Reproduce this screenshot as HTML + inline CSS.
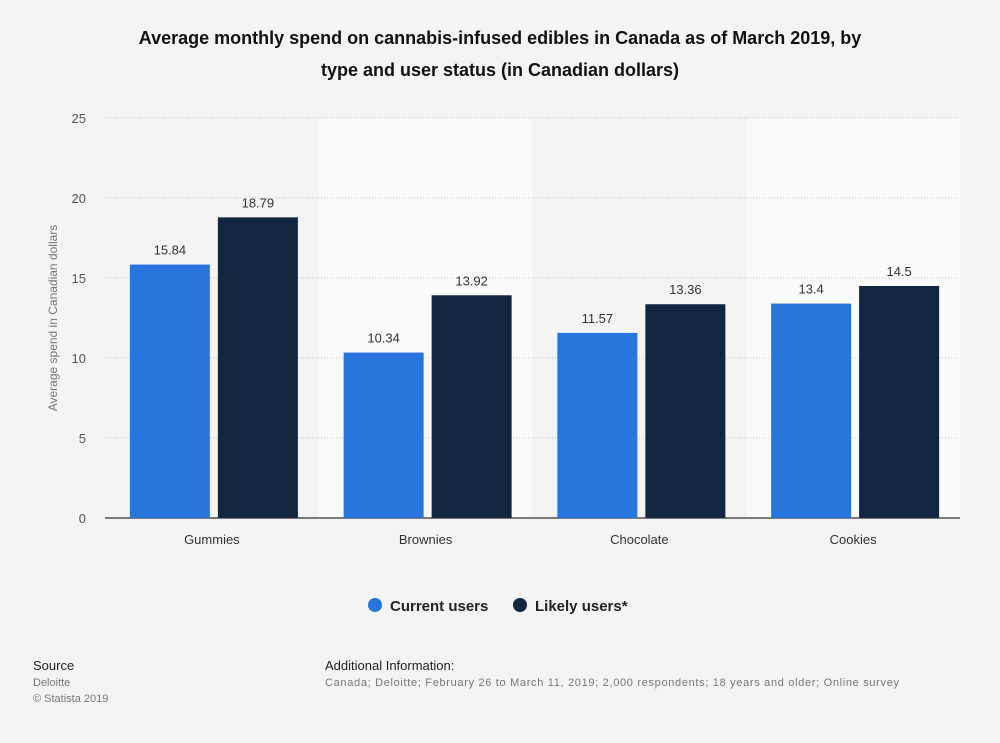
<!DOCTYPE html>
<html><head><meta charset="utf-8"><style>
body{margin:0;width:1000px;height:743px;background:#f4f4f4;font-family:"Liberation Sans",sans-serif;overflow:hidden}
</style></head><body>
<svg width="1000" height="743" style="position:absolute;left:0;top:0">
<text x="500" y="44" text-anchor="middle" font-size="18" font-weight="bold" fill="#111">Average monthly spend on cannabis-infused edibles in Canada as of March 2019, by</text>
<text x="500" y="76" text-anchor="middle" font-size="18" font-weight="bold" fill="#111">type and user status (in Canadian dollars)</text>
<g id="bands"></g><g id="grid"></g><g id="bars"></g>
<text transform="translate(57,318) rotate(-90)" text-anchor="middle" font-size="12" fill="#777">Average spend in Canadian dollars</text>
<g>
<circle cx="375" cy="605" r="7" fill="#2876dd"/>
<text x="390" y="611" font-size="15" font-weight="bold" fill="#222">Current users</text>
<circle cx="520" cy="605" r="7" fill="#12263f"/>
<text x="535" y="611" font-size="15" font-weight="bold" fill="#222">Likely users*</text>
</g>
<text x="33" y="670" font-size="13" fill="#222">Source</text>
<text x="33" y="686" font-size="11" fill="#777">Deloitte</text>
<text x="33" y="702" font-size="11" fill="#777">© Statista 2019</text>
<text x="325" y="670" font-size="13" fill="#222">Additional Information:</text>
<text x="325" y="686" font-size="11" fill="#777" textLength="574" lengthAdjust="spacing">Canada; Deloitte; February 26 to March 11, 2019; 2,000 respondents; 18 years and older; Online survey</text>
</svg>
<script>
const categories=["Gummies","Brownies","Chocolate","Cookies"];
const currentUsers=[15.84,10.34,11.57,13.4];
const likelyUsers=[18.79,13.92,13.36,14.5];
const yTicks=[0,5,10,15,20,25];
const NS="http://www.w3.org/2000/svg";
const L=105,R=960,T=118,B=518,yMax=25;
const bw=(R-L)/categories.length;
const y=v=>B-(v/yMax)*(B-T);
function mk(tag,attrs,parent,text){const e=document.createElementNS(NS,tag);for(const k in attrs)e.setAttribute(k,attrs[k]);if(text!==undefined)e.textContent=text;document.getElementById(parent).appendChild(e);return e;}
categories.forEach((c,i)=>{
 if(i%2===1){const r=mk('rect',{x:L+i*bw,y:T,width:bw,height:B-T,fill:'#fafafa'},'bands');
 
 }
});
yTicks.forEach(t=>{
 if(t>0){const l=mk('line',{x1:L,x2:R,y1:y(t),y2:y(t),stroke:'#c8c8c8','stroke-dasharray':'1,2'},'grid');
 
 }
 const tx=mk('text',{x:86,y:y(t)+5,'text-anchor':'end','font-size':13,fill:'#555'},'grid',t);
 
 
});
const ax=mk('line',{x1:L,x2:R,y1:B,y2:B,stroke:'#333','stroke-width':1.2},'grid');


const W=80;
categories.forEach((c,i)=>{
 const cx=L+bw*i+bw/2;
 [[currentUsers[i],'#2876dd','current',cx-82],[likelyUsers[i],'#12263f','likely',cx+6]].forEach(([v,col,s,x])=>{
  const r=mk('rect',{x:x,y:y(v),width:W,height:B-y(v),fill:col},'bars');
  
  
  const t=mk('text',{x:x+W/2,y:y(v)-10,'text-anchor':'middle','font-size':13,fill:'#333'},'bars',String(v));
  
  
 });
 const lt=mk('text',{x:cx,y:544,'text-anchor':'middle','font-size':13,fill:'#333'},'bars',c);
 
 
});
</script>
</body></html>
